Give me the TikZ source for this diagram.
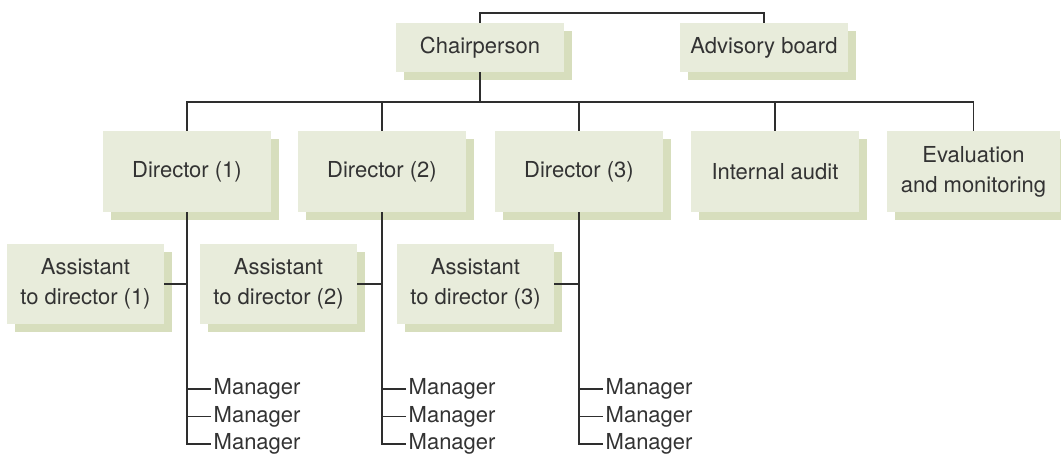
\documentclass[tikz,border=0pt]{standalone}
\usepackage{fontspec}
\setmainfont{TeX Gyre Heros}
\usetikzlibrary{shadows}
\definecolor{boxfill}{HTML}{E8ECDB}
\definecolor{shadowc}{HTML}{D7DEBD}
\definecolor{txt}{HTML}{333333}
\definecolor{linec}{HTML}{2E2E2E}
\begin{document}
\begin{tikzpicture}[x=1pt,y=-1pt,
  every node/.style={font=\fontsize{22}{30}\selectfont, text=txt},
  orgbox/.style={rectangle, fill=boxfill, inner sep=0pt, align=center,
    general shadow={fill=shadowc, shadow xshift=8pt, shadow yshift=-8pt}},
  dirbox/.style={orgbox, minimum width=168pt, minimum height=81pt},
  topbox/.style={orgbox, minimum width=168pt, minimum height=49pt},
  asbox/.style={orgbox, minimum width=157pt, minimum height=80pt},
  mgr/.style={anchor=west, inner xsep=2.5pt, inner ysep=0pt},
  conn/.style={draw=linec, line width=1.3pt}]
\useasboundingbox (0,0) rectangle (1061,454);
\begin{scope}
\clip (0,0) rectangle (1061,454);
% top level
\node[topbox] (chair) at (480,47.5) {Chairperson};
\node[topbox] (adv) at (764,47.5) {Advisory board};
% directors
\node[dirbox] (d1) at (187,171.5) {Director (1)};
\node[dirbox] (d2) at (382,171.5) {Director (2)};
\node[dirbox] (d3) at (579,171.5) {Director (3)};
\node[dirbox] (d4) at (775,171.5) {Internal audit};
\node[dirbox, minimum width=173pt] (d5) at (973.5,171.5) {Evaluation\\and monitoring};
% assistants
\node[asbox] (a1) at (85.5,284) {Assistant\\to director (1)};
\node[asbox] (a2) at (278.5,284) {Assistant\\to director (2)};
\node[asbox] (a3) at (475.5,284) {Assistant\\to director (3)};
\end{scope}
% managers
\foreach \d/\x in {1/187,2/382,3/579}{
  \node[mgr] (m\d a) at (\x+24,389) {Manager};
  \node[mgr] (m\d b) at (\x+24,416.5) {Manager};
  \node[mgr] (m\d c) at (\x+24,444) {Manager};
}
% connectors
\coordinate (topline) at (480,13);
\coordinate (bus) at (480,102);
\draw[conn] (chair.north) |- (topline) -| (adv.north);
\draw[conn] (chair.south) -- (bus);
\draw[conn] (d1.north) |- (bus);
\draw[conn] (d5.north) |- (bus);
\draw[conn] (d2.north) -- (d2.north |- bus);
\draw[conn] (d3.north) -- (d3.north |- bus);
\draw[conn] (d4.north) -- (d4.north |- bus);
\foreach \d in {1,2,3}{
  \draw[conn] (d\d.south) |- (m\d c.west);
  \draw[conn] (a\d.east) -- (a\d.east -| d\d.south);
  \draw[conn] (m\d a.west) -- (m\d a.west -| d\d.south);
  \draw[conn] (m\d b.west) -- (m\d b.west -| d\d.south);
}
\end{tikzpicture}
\end{document}
